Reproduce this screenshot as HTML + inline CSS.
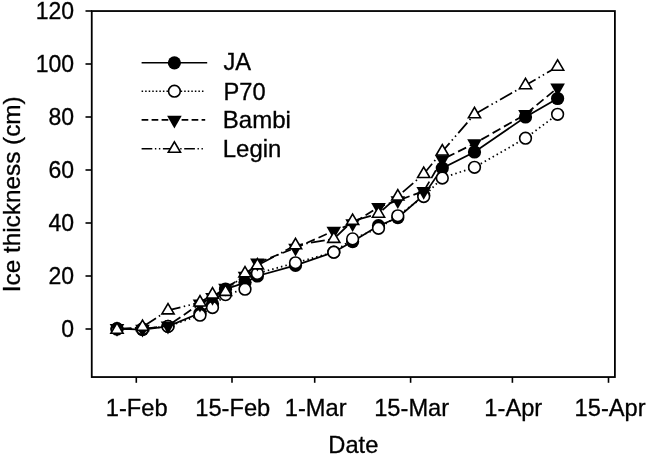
<!DOCTYPE html>
<html><head><meta charset="utf-8"><title>Ice thickness</title>
<style>html,body{margin:0;padding:0;background:#fff}svg{display:block}text{font-family:"Liberation Sans",sans-serif;font-size:23px;fill:#000;stroke:#000;stroke-width:0.3px}</style></head><body>
<svg width="647" height="455" viewBox="0 0 647 455">
<rect width="647" height="455" fill="#fff"/>
<rect x="91.75" y="11.05" width="523.15" height="366" fill="none" stroke="#000" stroke-width="1.8"/>
<line x1="85.5" y1="329.0" x2="92" y2="329.0" stroke="#000" stroke-width="1.6"/>
<text x="74" y="337.3" text-anchor="end">0</text>
<line x1="85.5" y1="276.0" x2="92" y2="276.0" stroke="#000" stroke-width="1.6"/>
<text x="74" y="284.3" text-anchor="end">20</text>
<line x1="85.5" y1="223.0" x2="92" y2="223.0" stroke="#000" stroke-width="1.6"/>
<text x="74" y="231.3" text-anchor="end">40</text>
<line x1="85.5" y1="170.0" x2="92" y2="170.0" stroke="#000" stroke-width="1.6"/>
<text x="74" y="178.3" text-anchor="end">60</text>
<line x1="85.5" y1="117.0" x2="92" y2="117.0" stroke="#000" stroke-width="1.6"/>
<text x="74" y="125.3" text-anchor="end">80</text>
<line x1="85.5" y1="64.0" x2="92" y2="64.0" stroke="#000" stroke-width="1.6"/>
<text x="74" y="72.3" text-anchor="end">100</text>
<line x1="85.5" y1="11.0" x2="92" y2="11.0" stroke="#000" stroke-width="1.6"/>
<text x="74" y="19.3" text-anchor="end">120</text>
<line x1="136.3" y1="377" x2="136.3" y2="382.8" stroke="#000" stroke-width="1.6"/>
<line x1="232" y1="377" x2="232" y2="382.8" stroke="#000" stroke-width="1.6"/>
<line x1="314.7" y1="377" x2="314.7" y2="382.8" stroke="#000" stroke-width="1.6"/>
<line x1="410.6" y1="377" x2="410.6" y2="382.8" stroke="#000" stroke-width="1.6"/>
<line x1="512.4" y1="377" x2="512.4" y2="382.8" stroke="#000" stroke-width="1.6"/>
<line x1="608.5" y1="377" x2="608.5" y2="382.8" stroke="#000" stroke-width="1.6"/>
<text transform="translate(136.72,416.1) scale(1.03,1)" text-anchor="middle">1-Feb</text>
<text transform="translate(232.77,416.1) scale(1.03,1)" text-anchor="middle">15-Feb</text>
<text transform="translate(315.69,416.1) scale(1.03,1)" text-anchor="middle">1-Mar</text>
<text transform="translate(411.66,416.1) scale(1.03,1)" text-anchor="middle">15-Mar</text>
<text transform="translate(513.29,416.1) scale(1.03,1)" text-anchor="middle">1-Apr</text>
<text transform="translate(610.09,416.1) scale(1.03,1)" text-anchor="middle">15-Apr</text>
<text transform="translate(353.35,452.8) scale(1.03,1)" text-anchor="middle">Date</text>
<text transform="translate(223.5,70.4) scale(1.03,1)">JA</text>
<text transform="translate(223.5,99.5) scale(1.03,1)">P70</text>
<text transform="translate(222.8,127.8) scale(1.045,1)">Bambi</text>
<text transform="translate(222.8,156.6) scale(1.04,1)">Legin</text>
<text transform="translate(19.9,194.28) rotate(-90) scale(1.058,1.065)" text-anchor="middle">Ice thickness (cm)</text>
<polyline points="117.0,328.7 142.5,329.5 168.0,326.4 200.0,313.1 212.5,303.8 225.5,289.2 245.0,282.6 257.4,276.0 295.5,265.4 333.8,252.2 352.6,241.6 378.5,225.7 397.8,217.7 423.7,195.2 442.3,168.1 474.5,152.0 525.5,117.0 557.6,98.5" fill="none" stroke="#000" stroke-width="1.75" />
<circle cx="117.0" cy="328.7" r="6.6" fill="#000"/>
<circle cx="142.5" cy="329.5" r="6.6" fill="#000"/>
<circle cx="168.0" cy="326.4" r="6.6" fill="#000"/>
<circle cx="200.0" cy="313.1" r="6.6" fill="#000"/>
<circle cx="212.5" cy="303.8" r="6.6" fill="#000"/>
<circle cx="225.5" cy="289.2" r="6.6" fill="#000"/>
<circle cx="245.0" cy="282.6" r="6.6" fill="#000"/>
<circle cx="257.4" cy="276.0" r="6.6" fill="#000"/>
<circle cx="295.5" cy="265.4" r="6.6" fill="#000"/>
<circle cx="333.8" cy="252.2" r="6.6" fill="#000"/>
<circle cx="352.6" cy="241.6" r="6.6" fill="#000"/>
<circle cx="378.5" cy="225.7" r="6.6" fill="#000"/>
<circle cx="397.8" cy="217.7" r="6.6" fill="#000"/>
<circle cx="423.7" cy="195.2" r="6.6" fill="#000"/>
<circle cx="442.3" cy="168.1" r="6.6" fill="#000"/>
<circle cx="474.5" cy="152.0" r="6.6" fill="#000"/>
<circle cx="525.5" cy="117.0" r="6.6" fill="#000"/>
<circle cx="557.6" cy="98.5" r="6.6" fill="#000"/>
<polyline points="117.0,329.0 142.5,329.0 168.0,326.4 200.0,315.2 212.5,307.5 225.5,294.6 245.0,289.2 257.4,273.4 295.5,262.8 333.8,252.2 352.6,238.9 378.5,228.3 397.8,215.8 423.7,196.5 442.3,178.0 474.5,167.3 525.5,138.2 557.6,114.3" fill="none" stroke="#000" stroke-width="1.75" stroke-dasharray="1.5 3.07" stroke-dashoffset="-4.56"/>
<circle cx="117.0" cy="329.0" r="5.85" fill="#fff" stroke="#000" stroke-width="1.6"/>
<circle cx="142.5" cy="329.0" r="5.85" fill="#fff" stroke="#000" stroke-width="1.6"/>
<circle cx="168.0" cy="326.4" r="5.85" fill="#fff" stroke="#000" stroke-width="1.6"/>
<circle cx="200.0" cy="315.2" r="5.85" fill="#fff" stroke="#000" stroke-width="1.6"/>
<circle cx="212.5" cy="307.5" r="5.85" fill="#fff" stroke="#000" stroke-width="1.6"/>
<circle cx="225.5" cy="294.6" r="5.85" fill="#fff" stroke="#000" stroke-width="1.6"/>
<circle cx="245.0" cy="289.2" r="5.85" fill="#fff" stroke="#000" stroke-width="1.6"/>
<circle cx="257.4" cy="273.4" r="5.85" fill="#fff" stroke="#000" stroke-width="1.6"/>
<circle cx="295.5" cy="262.8" r="5.85" fill="#fff" stroke="#000" stroke-width="1.6"/>
<circle cx="333.8" cy="252.2" r="5.85" fill="#fff" stroke="#000" stroke-width="1.6"/>
<circle cx="352.6" cy="238.9" r="5.85" fill="#fff" stroke="#000" stroke-width="1.6"/>
<circle cx="378.5" cy="228.3" r="5.85" fill="#fff" stroke="#000" stroke-width="1.6"/>
<circle cx="397.8" cy="215.8" r="5.85" fill="#fff" stroke="#000" stroke-width="1.6"/>
<circle cx="423.7" cy="196.5" r="5.85" fill="#fff" stroke="#000" stroke-width="1.6"/>
<circle cx="442.3" cy="178.0" r="5.85" fill="#fff" stroke="#000" stroke-width="1.6"/>
<circle cx="474.5" cy="167.3" r="5.85" fill="#fff" stroke="#000" stroke-width="1.6"/>
<circle cx="525.5" cy="138.2" r="5.85" fill="#fff" stroke="#000" stroke-width="1.6"/>
<circle cx="557.6" cy="114.3" r="5.85" fill="#fff" stroke="#000" stroke-width="1.6"/>
<polyline points="117.0,328.2 142.5,329.0 168.0,325.8 200.0,303.8 212.5,297.2 225.5,287.9 245.0,276.0 257.4,262.8 295.5,247.9 333.8,230.9 352.6,223.5 378.5,207.1 397.8,200.5 423.7,191.2 442.3,159.4 474.5,143.5 525.5,114.3 557.6,87.8" fill="none" stroke="#000" stroke-width="1.75" stroke-dasharray="9.0 4.07" stroke-dashoffset="-5.03"/>
<path d="M109.7,324.0h14.6L117.0,336.8z" fill="#000"/>
<path d="M135.2,324.8h14.6L142.5,337.6z" fill="#000"/>
<path d="M160.7,321.6h14.6L168.0,334.4z" fill="#000"/>
<path d="M192.7,299.6h14.6L200.0,312.4z" fill="#000"/>
<path d="M205.2,293.0h14.6L212.5,305.8z" fill="#000"/>
<path d="M218.2,283.7h14.6L225.5,296.5z" fill="#000"/>
<path d="M237.7,271.8h14.6L245.0,284.6z" fill="#000"/>
<path d="M250.1,258.6h14.6L257.4,271.4z" fill="#000"/>
<path d="M288.2,243.7h14.6L295.5,256.5z" fill="#000"/>
<path d="M326.5,226.8h14.6L333.8,239.5z" fill="#000"/>
<path d="M345.3,219.3h14.6L352.6,232.1z" fill="#000"/>
<path d="M371.2,202.9h14.6L378.5,215.7z" fill="#000"/>
<path d="M390.5,196.3h14.6L397.8,209.1z" fill="#000"/>
<path d="M416.4,187.0h14.6L423.7,199.8z" fill="#000"/>
<path d="M435.0,155.2h14.6L442.3,168.0z" fill="#000"/>
<path d="M467.2,139.3h14.6L474.5,152.1z" fill="#000"/>
<path d="M518.2,110.1h14.6L525.5,122.9z" fill="#000"/>
<path d="M550.3,83.6h14.6L557.6,96.4z" fill="#000"/>
<polyline points="117.0,329.8 142.5,326.9 168.0,310.4 200.0,302.5 212.5,294.6 225.5,291.9 245.0,273.4 257.4,265.4 295.5,245.3 333.8,238.9 352.6,220.9 378.5,213.7 397.8,196.5 423.7,174.0 442.3,151.5 474.5,114.3 525.5,85.2 557.6,66.7" fill="none" stroke="#000" stroke-width="1.75" stroke-dasharray="13.9 3.4 1.5 3.4 1.5 3.4" stroke-dashoffset="-0.73"/>
<path d="M110.9,333.3h12.2L117.0,322.9z" fill="#fff" stroke="#000" stroke-width="1.6"/>
<path d="M136.4,330.4h12.2L142.5,320.0z" fill="#fff" stroke="#000" stroke-width="1.6"/>
<path d="M161.9,313.9h12.2L168.0,303.6z" fill="#fff" stroke="#000" stroke-width="1.6"/>
<path d="M193.9,306.0h12.2L200.0,295.6z" fill="#fff" stroke="#000" stroke-width="1.6"/>
<path d="M206.4,298.1h12.2L212.5,287.7z" fill="#fff" stroke="#000" stroke-width="1.6"/>
<path d="M219.4,295.4h12.2L225.5,285.0z" fill="#fff" stroke="#000" stroke-width="1.6"/>
<path d="M238.9,276.9h12.2L245.0,266.5z" fill="#fff" stroke="#000" stroke-width="1.6"/>
<path d="M251.3,268.9h12.2L257.4,258.5z" fill="#fff" stroke="#000" stroke-width="1.6"/>
<path d="M289.4,248.8h12.2L295.5,238.4z" fill="#fff" stroke="#000" stroke-width="1.6"/>
<path d="M327.7,242.4h12.2L333.8,232.0z" fill="#fff" stroke="#000" stroke-width="1.6"/>
<path d="M346.5,224.4h12.2L352.6,214.0z" fill="#fff" stroke="#000" stroke-width="1.6"/>
<path d="M372.4,217.2h12.2L378.5,206.8z" fill="#fff" stroke="#000" stroke-width="1.6"/>
<path d="M391.7,200.0h12.2L397.8,189.6z" fill="#fff" stroke="#000" stroke-width="1.6"/>
<path d="M417.6,177.5h12.2L423.7,167.1z" fill="#fff" stroke="#000" stroke-width="1.6"/>
<path d="M436.2,155.0h12.2L442.3,144.6z" fill="#fff" stroke="#000" stroke-width="1.6"/>
<path d="M468.4,117.8h12.2L474.5,107.4z" fill="#fff" stroke="#000" stroke-width="1.6"/>
<path d="M519.4,88.7h12.2L525.5,78.3z" fill="#fff" stroke="#000" stroke-width="1.6"/>
<path d="M551.5,70.2h12.2L557.6,59.8z" fill="#fff" stroke="#000" stroke-width="1.6"/>
<line x1="141.6" y1="62.75" x2="207.2" y2="62.75" stroke="#000" stroke-width="1.6" />
<circle cx="174.4" cy="62.8" r="6.6" fill="#000"/>
<line x1="141.6" y1="91.2" x2="204.6" y2="91.2" stroke="#000" stroke-width="1.6" stroke-dasharray="1.5 2.05"/>
<circle cx="174.4" cy="91.2" r="5.85" fill="#fff" stroke="#000" stroke-width="1.6"/>
<line x1="141.6" y1="119.9" x2="205.2" y2="119.9" stroke="#000" stroke-width="1.6" stroke-dasharray="6.7 3.3"/>
<path d="M167.1,115.7h14.6L174.4,128.5z" fill="#000"/>
<line x1="141.6" y1="148.8" x2="204.2" y2="148.8" stroke="#000" stroke-width="1.6" stroke-dasharray="10.7 2.6 1.4 2.6 1.4 2.6"/>
<path d="M168.3,152.3h12.2L174.4,141.9z" fill="#fff" stroke="#000" stroke-width="1.6"/>
</svg></body></html>
